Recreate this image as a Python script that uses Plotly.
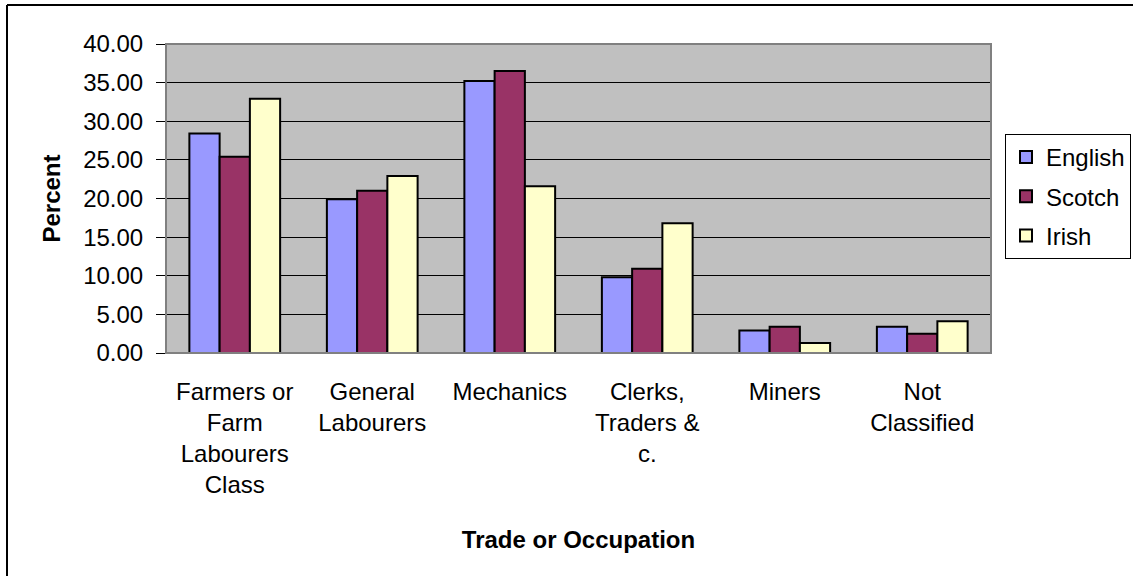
import plotly.graph_objects as go

categories = [
    "Farmers or<br>Farm<br>Labourers<br>Class",
    "General<br>Labourers",
    "Mechanics",
    "Clerks,<br>Traders &<br>c.",
    "Miners",
    "Not<br>Classified",
]
english = [28.4, 19.9, 35.2, 9.8, 2.9, 3.4]
scotch = [25.4, 21.0, 36.5, 10.9, 3.4, 2.5]
irish = [32.9, 22.9, 21.6, 16.8, 1.3, 4.1]

series_names = ["English", "Scotch", "Irish"]
series_values = [english, scotch, irish]
series_colors = ["#9999FF", "#993366", "#FFFFCC"]

FONT = "Liberation Sans, Arial, sans-serif"

fig = go.Figure()
for name, vals, col in zip(series_names, series_values, series_colors):
    fig.add_trace(go.Bar(
        name=name, x=categories, y=vals, legendgroup=name,
        marker=dict(color=col, line=dict(color="black", width=2)),
    ))

W, H = 1133, 576
ml, mr, mt, mb = 166, 142, 44, 223
pw, ph = W - ml - mr, H - mt - mb

def px_x(v):
    return (v - ml) / pw

def px_y(v):
    return (H - mb - v) / ph

fig.update_layout(
    width=W, height=H,
    margin=dict(l=ml, r=mr, t=mt, b=mb, pad=0, autoexpand=False),
    paper_bgcolor="white", plot_bgcolor="#C0C0C0",
    barmode="group", bargap=0.34, bargroupgap=0,
    font=dict(family=FONT, size=24, color="black"),
    showlegend=True,
    legend=dict(
        x=px_x(1005), y=px_y(134), xanchor="left", yanchor="top",
        bordercolor="black", borderwidth=1, bgcolor="white",
        font=dict(family=FONT, size=24, color="black"),
        tracegroupgap=5, itemwidth=30,
    ),
    xaxis=dict(
        showgrid=False, showline=True, linecolor="black", linewidth=1,
        ticks="", tickfont=dict(size=24), ticklabelstandoff=17,
        title=dict(text="<b>Trade or Occupation</b>", font=dict(size=24), standoff=33),
    ),
    yaxis=dict(
        range=[0, 40], dtick=5, tickformat=".2f",
        showgrid=True, gridcolor="black", gridwidth=1,
        showline=True, linecolor="black", linewidth=1,
        ticks="outside", ticklen=9, tickcolor="black",
        tickfont=dict(size=24), ticklabelstandoff=8,
        zeroline=False,
        title=dict(text="<b>Percent</b>", font=dict(size=24), standoff=15),
    ),
    shapes=[
        dict(type="rect", xref="paper", yref="paper", x0=0, x1=1, y0=0, y1=1,
             line=dict(color="#808080", width=2), layer="above"),
        dict(type="line", xref="paper", yref="paper", x0=px_x(7), x1=px_x(7),
             y0=px_y(5), y1=px_y(600), line=dict(color="black", width=2)),
        dict(type="line", xref="paper", yref="paper", x0=px_x(7), x1=px_x(1200),
             y0=px_y(5), y1=px_y(5), line=dict(color="black", width=2)),
    ],
)

fig.write_html(
    "out.html",
    config={"displayModeBar": False},
    post_script="document.body.style.margin='0px';document.body.style.overflow='hidden';",
)
